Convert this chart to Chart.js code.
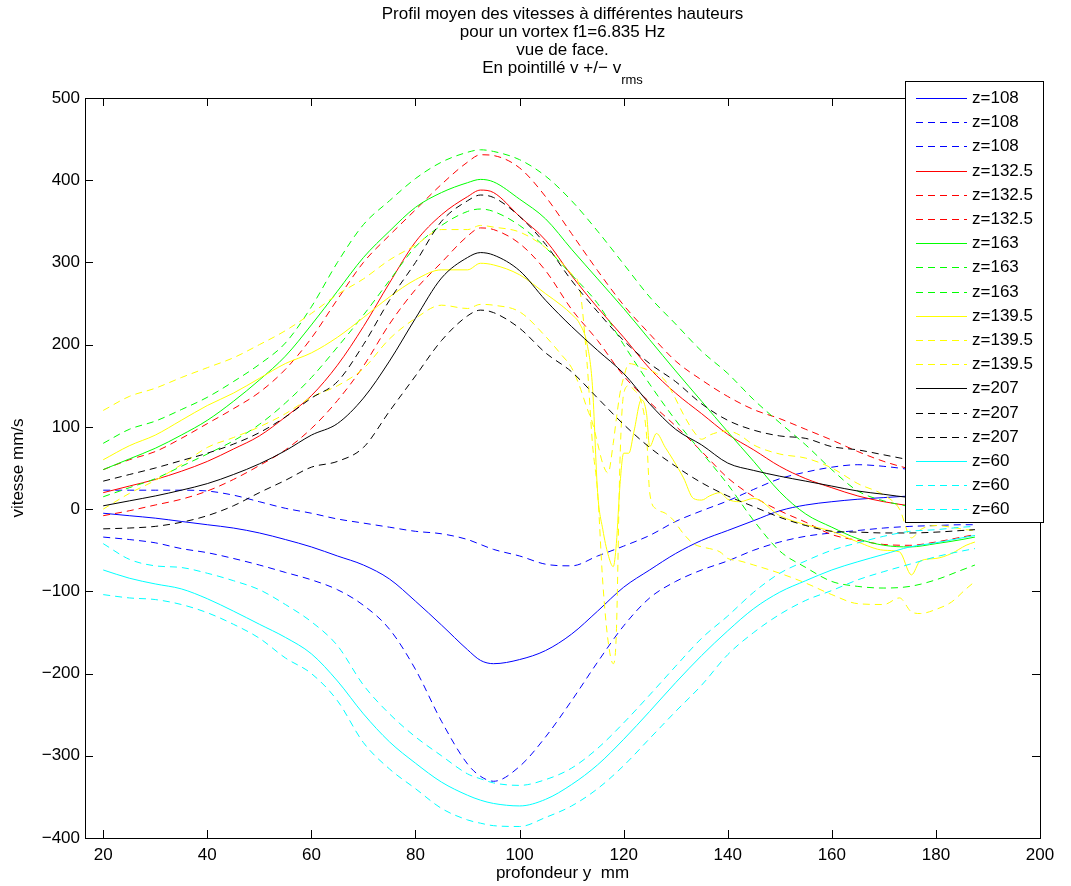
<!DOCTYPE html>
<html>
<head>
<meta charset="utf-8">
<script src="https://cdn.jsdelivr.net/npm/chart.js@4"></script>
<style>
  html, body { margin: 0; padding: 0; background: #fff; }
  #wrap { width: 1071px; height: 886px; }
</style>
</head>
<body>
<div id="wrap"><canvas id="chart"></canvas></div>
<script>
const FONT = '"Liberation Sans", Arial, Helvetica, sans-serif';

// --- Data (profondeur y in mm, vitesse in mm/s) ---
const depth = [20, 25, 30, 35, 40, 45, 50, 55, 60, 65, 70, 75, 80, 85, 90, 92.5, 95, 100, 105, 110, 115,
  120, 125, 130, 135, 140, 145, 150, 155, 160, 165, 170, 175, 180, 185, 187.5];

const blueMean = [-5, -8, -11, -15, -19, -23, -29, -37, -46, -57, -68, -85, -112, -141, -171, -184, -188, -183, -172, -152, -124,
  -95, -74, -54, -38, -26, -14, -2, 5, 9, 12, 14, 16, 18, 19, 20];
const blueUpper = [23, 23, 23, 23, 22, 17, 9, 1, -5, -12, -17, -22, -27, -30, -37, -43, -49, -57, -67, -69, -57,
  -45, -32, -15, -2, 10, 24, 37, 45, 51, 54, 52, 48, 42, 35, 32];
const blueLower = [-34, -37, -41, -48, -53, -60, -68, -77, -86, -98, -117, -146, -195, -258, -310, -325, -331, -313, -277, -233, -186,
  -142, -108, -88, -74, -63, -50, -40, -33, -29, -26, -23, -21, -20, -19, -19];

const redMean = [20, 28, 36, 46, 58, 73, 89, 112, 138, 175, 222, 275, 325, 358, 380, 388, 385, 356, 327, 284, 245,
  209, 171, 141, 116, 91, 72, 52, 37, 26, 16, 9, 4, 0, -3, -4];
const redUpper = [48, 60, 70, 86, 104, 122, 142, 170, 208, 255, 300, 333, 364, 395, 422, 431, 430, 415, 380, 335, 290,
  248, 213, 180, 157, 137, 121, 110, 97, 84, 70, 58, 49, 43, 38, 36];
const redLower = [-8, -2, 5, 12, 22, 36, 53, 72, 98, 132, 174, 225, 267, 300, 332, 342, 340, 323, 290, 243, 205,
  162, 130, 101, 70, 38, 15, -2, -16, -31, -38, -43, -44, -40, -34, -31];

const greenMean = [48, 61, 74, 90, 108, 131, 157, 186, 224, 265, 306, 338, 367, 385, 397, 401, 398, 377, 353, 316, 280,
  244, 206, 168, 131, 94, 58, 21, -6, -22, -36, -44, -46, -42, -37, -34];
const greenUpper = [80, 97, 107, 121, 136, 155, 176, 202, 246, 300, 346, 375, 402, 422, 434, 437, 435, 425, 405, 375, 338,
  298, 258, 225, 192, 165, 133, 105, 78, 48, 22, 10, 3, -3, -10, -13];
const greenLower = [15, 26, 37, 52, 67, 83, 103, 129, 160, 197, 236, 278, 319, 345, 362, 365, 362, 345, 318, 285, 250,
  200, 152, 108, 69, 30, -14, -51, -71, -88, -94, -96, -94, -86, -74, -68];

const blackMean = [4, 10, 16, 23, 31, 42, 55, 71, 90, 104, 135, 180, 232, 281, 306, 312, 309, 290, 254, 222, 193,
  165, 128, 97, 78, 56, 47, 40, 34, 28, 22, 18, 14, 12, 10, 9];
const blackUpper = [34, 42, 50, 59, 68, 79, 93, 112, 135, 155, 200, 254, 300, 350, 375, 382, 379, 356, 322, 278, 240,
  205, 177, 155, 128, 108, 96, 89, 86, 76, 72, 66, 60, 56, 52, 50];
const blackLower = [-24, -23, -21, -16, -8, 4, 20, 35, 51, 58, 75, 119, 162, 205, 235, 242, 239, 220, 190, 167, 135,
  103, 75, 52, 32, 16, 3, -10, -20, -27, -28, -29, -29, -28, -26, -25];

const cyanMean = [-74, -84, -91, -97, -109, -124, -140, -156, -176, -209, -249, -283, -309, -332, -348, -354, -358, -361, -353, -335, -311,
  -280, -246, -211, -178, -148, -121, -101, -87, -74, -64, -55, -46, -41, -35, -32];
const cyanUpper = [-42, -61, -69, -71, -78, -87, -98, -116, -137, -166, -214, -249, -277, -300, -322, -328, -333, -336, -329, -315, -291,
  -260, -226, -191, -157, -130, -101, -78, -63, -50, -41, -33, -27, -25, -22, -21];
const cyanLower = [-104, -108, -110, -116, -126, -140, -157, -181, -200, -233, -284, -316, -340, -364, -378, -382, -385, -386, -375, -361, -340,
  -312, -279, -246, -214, -177, -150, -128, -111, -99, -86, -76, -67, -58, -51, -48];

// the z=139.5 profile is noisy between 110 and 145 mm, so it is sampled more finely
const depthYellow = [20, 25, 30, 35, 40, 45, 50, 55, 60, 65, 70, 75, 80, 85, 90, 92.5, 95, 100, 105,
  108, 110, 111.5, 113, 114, 115, 116, 117, 118, 118.6, 119.3, 120, 121, 122, 123.4, 124.4, 125, 126.3,
  128, 129.5, 131.5, 133.4, 135, 136.5, 138.5, 140, 142.3, 145,
  150, 155, 160, 165, 170, 173, 175.3, 177, 180, 183, 185.8, 187.5];
const yellowMean = [60, 77, 90, 108, 126, 141, 159, 177, 190, 209, 233, 258, 279, 291, 291, 299, 297, 285, 262,
  248, 237, 226, 200, 150, 20, -25, -55, -70, -42, 30, 68, 68, 95, 133, 116, 76, 92,
  75, 60, 38, 13, 11, 16, 20, 12, 9, 13,
  -8, -19, -27, -40, -50, -52, -80, -63, -60, -54, -44, -40];
const yellowUpper = [120, 137, 147, 160, 172, 184, 200, 217, 238, 261, 280, 303, 321, 340, 340, 345, 343, 337, 318,
  300, 286, 270, 175, 80, 20, -90, -160, -188, -150, 60, 140, 150, 145, 130, 90, 20, 0,
  -5, -13, -30, -42, -46, -48, -52, -60, -63, -68,
  -78, -90, -104, -115, -116, -108, -125, -127, -122, -113, -97, -88];
const yellowLower = [0, 19, 35, 54, 75, 87, 100, 116, 136, 150, 171, 207, 232, 248, 244, 249, 248, 240, 210,
  188, 172, 150, 122, 105, 80, 55, 44, 80, 110, 141, 160, 177, 176, 172, 170, 169, 165,
  156, 140, 115, 95, 85, 90, 94, 95, 90, 78,
  67, 62, 50, 31, 17, 0, -35, -25, -20, -22, -25, -26];

const xTicks = [20, 40, 60, 80, 100, 120, 140, 160, 180, 200];
const yTicks = [-400, -300, -200, -100, 0, 100, 200, 300, 400, 500];

const zLabels = ["108", "132.5", "163", "139.5", "207", "60"];
const colors = ["#0000ff", "#ff0000", "#00ff00", "#ffff00", "#000000", "#00ffff"];

const titleLines = [
  "Profil moyen des vitesses à différentes hauteurs",
  "pour un vortex f1=6.835 Hz",
  "vue de face.",
  "En pointillé v +/\u2212 v",
];
const titleSub = "rms";

// --- Series, in the order they were plotted ---
const DASH = [7, 5];
const groups = [
  [depth, blueMean, blueUpper, blueLower],
  [depth, redMean, redUpper, redLower],
  [depth, greenMean, greenUpper, greenLower],
  [depthYellow, yellowMean, yellowUpper, yellowLower],
  [depth, blackMean, blackUpper, blackLower],
  [depth, cyanMean, cyanUpper, cyanLower],
];

const series = [];
const legendItems = [];
groups.forEach(([xs, mean, upper, lower], g) => {
  [mean, upper, lower].forEach((ys, k) => {
    const dash = k === 0 ? [] : DASH;
    legendItems.push({ text: "z=" + zLabels[g], color: colors[g], dash });
    series.push({
      label: "z=" + zLabels[g],
      data: xs.map((x, i) => ({ x, y: ys[i] })),
      borderColor: colors[g],
      borderWidth: 1,
      borderDash: dash,
      pointRadius: 0,
      cubicInterpolationMode: "monotone",
      fill: false,
    });
  });
});

// --- Frame, inward ticks, legend box and titles ---
const decorations = {
  id: "decorations",
  afterDatasetsDraw(chart) {
    const { ctx, chartArea: a, scales } = chart;
    ctx.save();
    ctx.strokeStyle = "#000";
    ctx.lineWidth = 1;
    ctx.strokeRect(Math.round(a.left) + 0.5, Math.round(a.top) + 0.5,
      Math.round(a.right - a.left), Math.round(a.bottom - a.top));

    const tl = 8;
    ctx.beginPath();
    xTicks.forEach((v) => {
      const px = Math.round(scales.x.getPixelForValue(v)) + 0.5;
      ctx.moveTo(px, a.bottom); ctx.lineTo(px, a.bottom - tl);
      ctx.moveTo(px, a.top); ctx.lineTo(px, a.top + tl);
    });
    yTicks.forEach((v) => {
      const py = Math.round(scales.y.getPixelForValue(v)) + 0.5;
      ctx.moveTo(a.left, py); ctx.lineTo(a.left + tl, py);
      ctx.moveTo(a.right, py); ctx.lineTo(a.right - tl, py);
    });
    ctx.stroke();
    ctx.restore();
  },
  afterDraw(chart) {
    const { ctx, chartArea: a } = chart;
    const cx = (a.left + a.right) / 2;
    ctx.save();
    ctx.fillStyle = "#000";
    ctx.textBaseline = "middle";

    // title
    ctx.font = "17px " + FONT;
    ctx.textAlign = "center";
    titleLines.slice(0, 3).forEach((t, i) => ctx.fillText(t, cx, 14 + i * 18));
    const w1 = ctx.measureText(titleLines[3]).width;
    ctx.font = "13px " + FONT;
    const w2 = ctx.measureText(titleSub).width;
    const x0 = cx - (w1 + w2) / 2;
    ctx.textAlign = "left";
    ctx.font = "17px " + FONT;
    ctx.fillText(titleLines[3], x0, 68);
    ctx.font = "13px " + FONT;
    ctx.fillText(titleSub, x0 + w1, 80);

    // axis titles
    ctx.font = "17px " + FONT;
    ctx.textAlign = "center";
    ctx.fillText("profondeur y  mm", cx, 873);
    ctx.save();
    ctx.translate(18, (a.top + a.bottom) / 2);
    ctx.rotate(-Math.PI / 2);
    ctx.fillText("vitesse mm/s", 0, 0);
    ctx.restore();

    // legend
    const box = { left: 905, top: 81, right: 1043, bottom: 522 };
    ctx.fillStyle = "#fff";
    ctx.fillRect(box.left, box.top, box.right - box.left, box.bottom - box.top);
    ctx.strokeStyle = "#000";
    ctx.lineWidth = 1;
    ctx.strokeRect(box.left + 0.5, box.top + 0.5, box.right - box.left, box.bottom - box.top);
    legendItems.forEach((item, i) => {
      const y = Math.round(98 + i * 24.2) + 0.5;
      ctx.save();
      ctx.strokeStyle = item.color;
      ctx.lineWidth = 1;
      ctx.setLineDash(item.dash);
      ctx.beginPath();
      ctx.moveTo(916, y);
      ctx.lineTo(967, y);
      ctx.stroke();
      ctx.restore();
      ctx.fillStyle = "#000";
      ctx.textAlign = "left";
      ctx.font = "17px " + FONT;
      ctx.fillText(item.text, 972, y);
    });
    ctx.restore();
  },
};

const minusFmt = (v) => (v < 0 ? "\u2212" + Math.abs(v) : String(v));

new Chart(document.getElementById("chart"), {
  type: "line",
  data: { datasets: series.slice().reverse() },
  options: {
    responsive: true,
    maintainAspectRatio: false,
    animation: false,
    layout: { padding: { top: 98, right: 31, left: 0, bottom: 0 } },
    plugins: {
      legend: { display: false },
      title: { display: false },
      tooltip: { enabled: false },
    },
    scales: {
      x: {
        type: "linear",
        min: 16.5,
        max: 200,
        afterBuildTicks: (scale) => { scale.ticks = xTicks.map((v) => ({ value: v })); },
        afterFit: (scale) => { scale.height = 48; },
        grid: { display: false, drawTicks: false },
        border: { display: false },
        ticks: {
          color: "#000",
          padding: 7,
          maxRotation: 0,
          font: { family: FONT, size: 17 },
          callback: minusFmt,
        },
      },
      y: {
        type: "linear",
        min: -400,
        max: 500,
        afterBuildTicks: (scale) => { scale.ticks = yTicks.map((v) => ({ value: v })); },
        afterFit: (scale) => { scale.width = 85; },
        grid: { display: false, drawTicks: false },
        border: { display: false },
        ticks: {
          color: "#000",
          padding: 5,
          font: { family: FONT, size: 17 },
          callback: minusFmt,
        },
      },
    },
  },
  plugins: [decorations],
});
</script>
</body>
</html>
